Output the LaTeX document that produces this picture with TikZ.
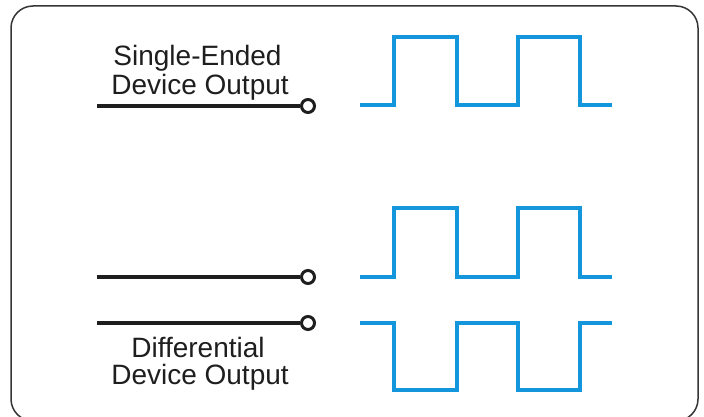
\documentclass[tikz,border=0pt]{standalone}
\usepackage{fontspec}
\setmainfont{Liberation Sans}
\definecolor{wave}{RGB}{20,150,220}
\definecolor{ink}{RGB}{30,30,30}
\begin{document}
\begin{tikzpicture}[x=1pt,y=-1pt,
  lbl/.style={anchor=base,inner sep=0pt,text=ink,font=\fontsize{28}{28}\selectfont},
  term/.style={circle,draw=ink,line width=3pt,fill=white,minimum size=13pt,inner sep=0pt},
  wire/.style={draw=ink,line width=3.2pt},
  sig/.style={draw=wave,line width=3.4pt,line join=miter},
  frame/.style={draw=ink!90,line width=1.5pt,rounded corners=22pt}]
\useasboundingbox (0,0) rectangle (704,417);
\draw[frame] (11,6) rectangle (698,421);
% labels
\node[lbl,text depth=0pt] (se1) at (197.5,66) {Single-Ended};
\node[lbl] (se2) at (200,95) {Device Output};
\node[lbl,text depth=0pt] (df1) at (198,357) {Differential};
\node[lbl] (df2) at (200,384) {Device Output};
% terminals and wires
\coordinate (a0) at (97,106);
\coordinate (b0) at (97,277);
\coordinate (c0) at (97,323);
\node[term] (a) at (308,106) {};
\node[term] (b) at (308,277) {};
\node[term] (c) at (308,323) {};
\draw[wire] (a0) -- (a.west);
\draw[wire] (b0) -- (b.west);
\draw[wire] (c0) -- (c.west);
% waveforms
\draw[sig] (360,105) -| (394,37) -| (457,105) -| (518,37) -| (580,105) -- (612,105);
\draw[sig] (360,277) -| (394,208) -| (457,277) -| (518,208) -| (580,277) -- (612,277);
\draw[sig] (360,323) -| (394,390) -| (457,323) -| (518,390) -| (580,323) -- (612,323);
\end{tikzpicture}
\end{document}
